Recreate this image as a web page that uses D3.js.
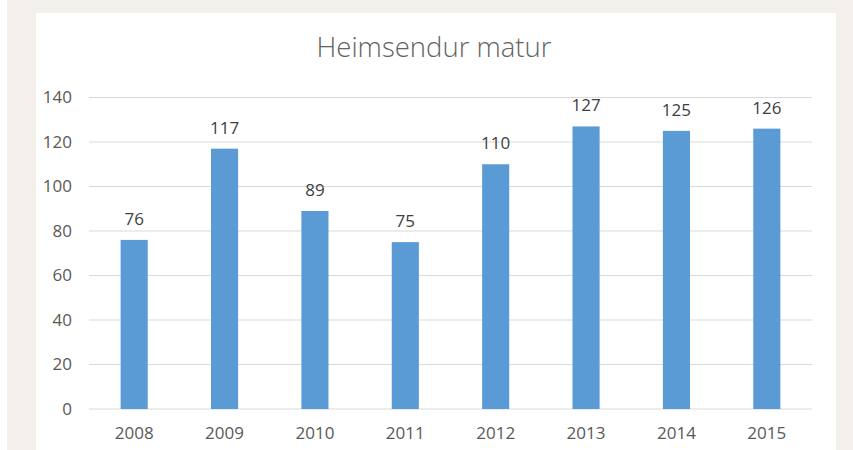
<!DOCTYPE html>
<html>
<head>
<meta charset="utf-8">
<script src="https://cdn.jsdelivr.net/npm/d3@7"></script>
<style>
  html, body { margin: 0; padding: 0; background: #fff; }
  svg { display: block; }
</style>
</head>
<body>
<svg class="chart"></svg>
<script>
var years  = ['2008', '2009', '2010', '2011', '2012', '2013', '2014', '2015'];
var values = [76, 117, 89, 75, 110, 127, 125, 126];
var yTicks = [0, 20, 40, 60, 80, 100, 120, 140];
var title  = 'Heimsendur matur';

var width  = 853;
var height = 450;
var font = '"Open Sans", sans-serif';
var textCol = '#595959';

var svg = d3.select('.chart')
    .attr('width', width)
    .attr('height', height);

// page backdrop and white card
svg.append('rect').attr('x', 7).attr('y', 0).attr('width', width - 7).attr('height', height)
    .attr('fill', '#f3f0eb');
svg.append('rect').attr('x', 36).attr('y', 13).attr('width', 800).attr('height', height - 13)
    .attr('fill', '#fff');

var x = d3.scaleBand().domain(years).range([89, 812]).paddingInner(0.7).paddingOuter(0.35);
var y = d3.scaleLinear().domain([0, 140]).range([409, 97.5]);

svg.append('text')
    .attr('x', 434).attr('y', 57)
    .attr('text-anchor', 'middle')
    .attr('font-family', font)
    .attr('font-size', 27.5)
    .attr('font-weight', 300)
    .attr('fill', '#636363')
    .text(title);

// gridlines
svg.append('g').selectAll('line')
    .data(yTicks)
    .enter().append('line')
    .attr('x1', 89).attr('x2', 812)
    .attr('y1', function(d) { return y(d); })
    .attr('y2', function(d) { return y(d); })
    .attr('stroke', '#d9d9d9')
    .attr('stroke-width', 1);

// y tick labels
svg.append('g').selectAll('text')
    .data(yTicks)
    .enter().append('text')
    .attr('x', 72)
    .attr('y', function(d) { return y(d); })
    .attr('dy', '0.35em')
    .attr('text-anchor', 'end')
    .attr('font-family', font)
    .attr('font-size', 17)
    .attr('fill', textCol)
    .text(function(d) { return d; });

// bars
svg.append('g').selectAll('rect')
    .data(values)
    .enter().append('rect')
    .attr('x', function(d, i) { return x(years[i]); })
    .attr('y', function(d) { return y(d); })
    .attr('width', x.bandwidth())
    .attr('height', function(d) { return y(0) - y(d); })
    .attr('fill', '#5b9bd5');

// data labels
svg.append('g').selectAll('text')
    .data(values)
    .enter().append('text')
    .attr('x', function(d, i) { return x(years[i]) + x.bandwidth() / 2; })
    .attr('y', function(d) { return y(d) - 15; })
    .attr('text-anchor', 'middle')
    .attr('font-family', font)
    .attr('font-size', 17)
    .attr('fill', '#404040')
    .text(function(d) { return d; });

// x labels
svg.append('g').selectAll('text')
    .data(years)
    .enter().append('text')
    .attr('x', function(d) { return x(d) + x.bandwidth() / 2; })
    .attr('y', 439)
    .attr('text-anchor', 'middle')
    .attr('font-family', font)
    .attr('font-size', 17)
    .attr('fill', textCol)
    .text(function(d) { return d; });
</script>
</body>
</html>
